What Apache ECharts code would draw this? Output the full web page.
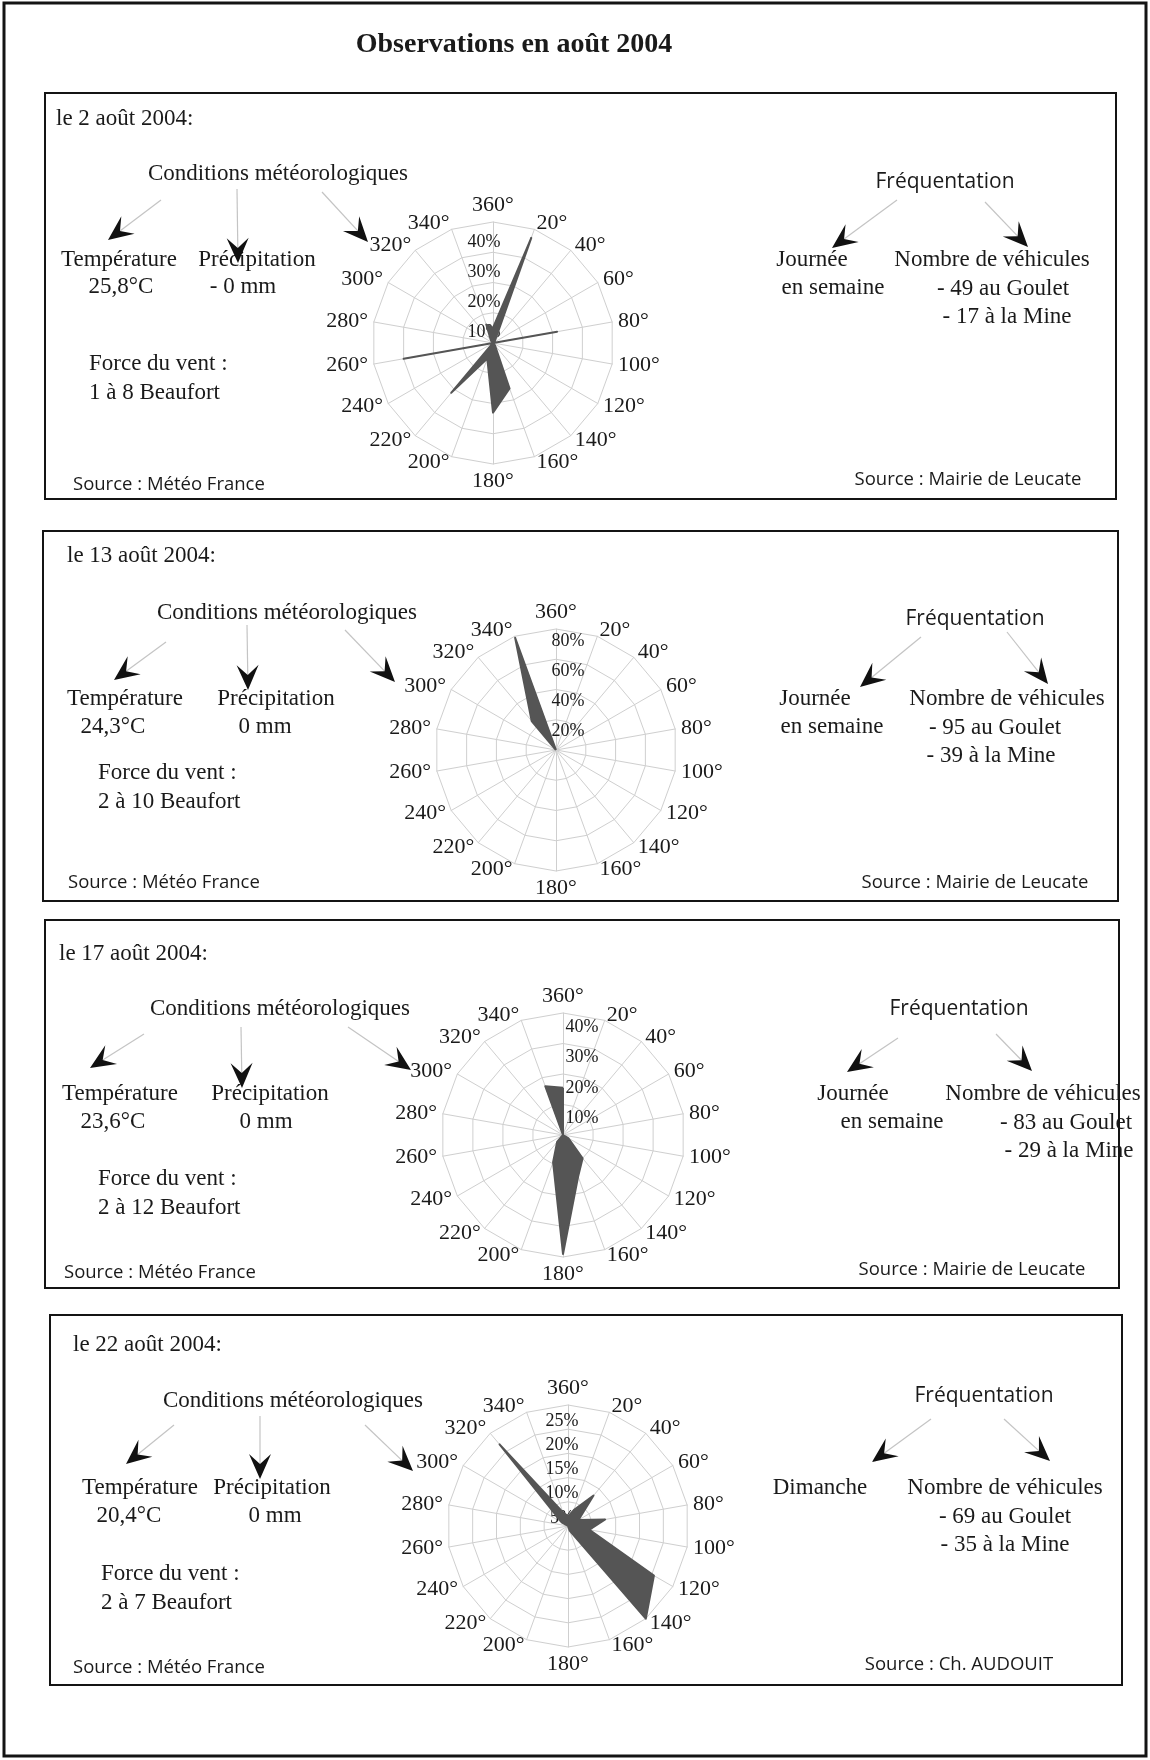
<!DOCTYPE html>
<html>
<head>
<meta charset="utf-8">
<title>Observations en août 2004</title>
<script src="https://cdn.jsdelivr.net/npm/echarts@6/dist/echarts.min.js"></script>
<style>
  html, body { margin: 0; padding: 0; background: #fff; }
  #chart { width: 1150px; height: 1760px; }
</style>
</head>
<body>
<div id="chart"></div>
<script>
// directions clockwise from north, 20° steps
const directions = [0, 20, 40, 60, 80, 100, 120, 140, 160, 180, 200, 220, 240, 260, 280, 300, 320, 340];
const dirLabels = ['360°', '20°', '40°', '60°', '80°', '100°', '120°', '140°', '160°', '180°',
                   '200°', '220°', '240°', '260°', '280°', '300°', '320°', '340°'];

// wind frequency (%) per direction, same order as directions
const wind02 = [5, 37, 1, 0, 21.5, 0, 0, 1, 16, 23, 5.5, 21.5, 0, 30, 0, 0, 1, 6.5];
const wind13 = [0, 0, 0, 0, 0, 0, 0, 0, 0, 0, 0, 0, 0, 0, 0, 0, 25, 79];
const wind17 = [15.5, 0, 0, 0, 0, 0, 2, 10, 14.5, 39, 9.5, 3, 0, 0, 0, 0, 0, 17];
const wind22 = [2, 3.5, 8.2, 2.5, 7.8, 4.5, 20.5, 25, 1, 0, 0, 0, 0, 0, 0, 1.5, 22, 3];

// scale max and ring count of each rose
const roseMax = [40, 80, 40, 25];
const roseSplit = [4, 4, 4, 5];

const serif = '"Liberation Serif", "Times New Roman", serif';
const sans = '"Open Sans", "Noto Sans", sans-serif';
const ink = '#1a1a1a';

// echarts radar runs counter-clockwise, so feed it north then 340, 320, ...
const order = directions.map((d, i) => (18 - i) % 18);

function makeRadar(center, radius, max, split, pad) {
  return {
    center: center,
    radius: radius,
    startAngle: 90,
    shape: 'polygon',
    splitNumber: split,
    indicator: order.map((k, j) => {
      const ind = { name: dirLabels[k], min: 0, max: max };
      if (j === 0) {
        ind.axisLabel = {
          show: true,
          color: ink,
          fontFamily: serif,
          fontSize: 18,
          margin: 0,
          align: 'center',
          verticalAlign: 'top',
          padding: pad,
          formatter: v => (v === 0 ? '' : v + '%')
        };
      }
      return ind;
    }),
    axisName: { color: ink, fontFamily: serif, fontSize: 22 },
    nameGap: 6,
    splitLine: { lineStyle: { color: '#cfcfcf', width: 1 } },
    splitArea: { show: false },
    axisLine: { lineStyle: { color: '#cfcfcf', width: 1 } },
    axisTick: { show: false },
    axisLabel: { show: false }
  };
}

function roseSeries(idx, values) {
  return {
    type: 'radar',
    radarIndex: idx,
    symbol: 'none',
    silent: true,
    lineStyle: { color: '#555555', width: 2 },
    areaStyle: { color: '#555555', opacity: 1 },
    data: [{ value: order.map(k => values[k]) }]
  };
}

// ---- decoration helpers ----
const g = [];
function txt(x, y, s, opt) {
  opt = opt || {};
  g.push({
    type: 'text', x: x, y: y, z: 10,
    style: {
      text: s,
      fill: ink,
      fontFamily: opt.family || serif,
      fontSize: opt.size || 23,
      fontWeight: opt.weight || 'normal',
      align: opt.align || 'center', textAlign: opt.align || 'center',
      verticalAlign: 'middle', textVerticalAlign: 'middle'
    }
  });
}
function arrow(sx, sy, tx, ty) {
  const dx = tx - sx, dy = ty - sy, len = Math.sqrt(dx * dx + dy * dy);
  const ux = dx / len, uy = dy / len, nx = -uy, ny = ux;
  const L = 25, W = 11;
  const bx = tx - ux * L, by = ty - uy * L;
  const mx = tx - ux * L * 0.6, my = ty - uy * L * 0.6;
  g.push({ type: 'line', z: 9, shape: { x1: sx, y1: sy, x2: mx, y2: my },
           style: { stroke: '#c4c4c4', lineWidth: 1.2 } });
  g.push({ type: 'polygon', z: 11,
           shape: { points: [[tx, ty], [bx + nx * W, by + ny * W], [mx, my], [bx - nx * W, by - ny * W]] },
           style: { fill: '#111' } });
}
function box(x, y, w, h, lw) {
  g.push({ type: 'rect', z: 20, shape: { x: x, y: y, width: w, height: h },
           style: { fill: 'none', stroke: '#141414', lineWidth: lw } });
}

function panel(p) {
  txt(p.dateX, p.dateY, p.date, { align: 'left' });
  txt(p.condX, p.condY, 'Conditions météorologiques');
  txt(p.tX, p.row1, 'Température');
  txt(p.tvX, p.row2, p.temp);
  txt(p.pX, p.row1, 'Précipitation');
  txt(p.pvX, p.row2, p.prec);
  txt(p.fX, p.fY, 'Force du vent :', { align: 'left' });
  txt(p.fX, p.fY + 29, p.force, { align: 'left' });
  txt(p.smX, p.srcY, 'Source : Météo France', { align: 'left', family: sans, size: 18.5 });
  txt(p.frX, p.frY, 'Fréquentation', { family: sans, size: 21 });
  p.dayLines.forEach((s, i) => txt(p.dayX[i], p.row1 + i * 28, s));
  p.carLines.forEach((s, i) => txt(p.carX[i], p.row1 + i * 28.5, s));
  txt(p.srX, p.srcY2, p.source, { family: sans, size: 18.5 });
  p.arrows.forEach(a => arrow(a[0], a[1], a[2], a[3]));
}

txt(514, 45, 'Observations en août 2004', { size: 28, weight: 'bold' });

panel({
  date: 'le 2 août 2004:', dateX: 56, dateY: 119, condX: 278, condY: 174,
  row1: 260, row2: 287, tX: 119, tvX: 121, temp: '25,8°C', pX: 257, pvX: 243, prec: '- 0 mm',
  fX: 89, fY: 364, force: '1 à 8 Beaufort', smX: 73, srcY: 485,
  frX: 945, frY: 182, dayLines: ['Journée', 'en semaine'], dayX: [812, 833],
  carLines: ['Nombre de véhicules', '- 49 au Goulet', '- 17 à la Mine'], carX: [992, 1003, 1007],
  source: 'Source : Mairie de Leucate', srX: 968, srcY2: 480,
  arrows: [[161, 200, 108, 240], [237, 189, 238, 263], [322, 192, 368, 242], [897, 200, 832, 248], [985, 202, 1028, 247]]
});
panel({
  date: 'le 13 août 2004:', dateX: 67, dateY: 556, condX: 287, condY: 613,
  row1: 699, row2: 727, tX: 125, tvX: 113, temp: '24,3°C', pX: 276, pvX: 265, prec: '0 mm',
  fX: 98, fY: 773, force: '2 à 10 Beaufort', smX: 68, srcY: 883,
  frX: 975, frY: 619, dayLines: ['Journée', 'en semaine'], dayX: [815, 832],
  carLines: ['Nombre de véhicules', '- 95 au Goulet', '- 39 à la Mine'], carX: [1007, 995, 991],
  source: 'Source : Mairie de Leucate', srX: 975, srcY2: 883,
  arrows: [[166, 642, 114, 680], [247, 625, 248, 690], [345, 630, 395, 682], [921, 637, 860, 687], [1007, 632, 1048, 684]]
});
panel({
  date: 'le 17 août 2004:', dateX: 59, dateY: 954, condX: 280, condY: 1009,
  row1: 1094, row2: 1122, tX: 120, tvX: 113, temp: '23,6°C', pX: 270, pvX: 266, prec: '0 mm',
  fX: 98, fY: 1179, force: '2 à 12 Beaufort', smX: 64, srcY: 1273,
  frX: 959, frY: 1009, dayLines: ['Journée', 'en semaine'], dayX: [853, 892],
  carLines: ['Nombre de véhicules', '- 83 au Goulet', '- 29 à la Mine'], carX: [1043, 1066, 1069],
  source: 'Source : Mairie de Leucate', srX: 972, srcY2: 1270,
  arrows: [[144, 1034, 90, 1068], [241, 1027, 242, 1088], [348, 1027, 411, 1070], [898, 1038, 847, 1072], [996, 1034, 1032, 1071]]
});
panel({
  date: 'le 22 août 2004:', dateX: 73, dateY: 1345, condX: 293, condY: 1401,
  row1: 1488, row2: 1516, tX: 140, tvX: 129, temp: '20,4°C', pX: 272, pvX: 275, prec: '0 mm',
  fX: 101, fY: 1574, force: '2 à 7 Beaufort', smX: 73, srcY: 1668,
  frX: 984, frY: 1396, dayLines: ['Dimanche'], dayX: [820],
  carLines: ['Nombre de véhicules', '- 69 au Goulet', '- 35 à la Mine'], carX: [1005, 1005, 1005],
  source: 'Source : Ch. AUDOUIT', srX: 959, srcY2: 1665,
  arrows: [[174, 1425, 126, 1464], [260, 1416, 260, 1479], [365, 1425, 413, 1471], [931, 1419, 872, 1462], [1004, 1419, 1050, 1461]]
});

box(4, 3, 1142, 1753, 3);
box(45, 93, 1071, 406, 2);
box(43, 531, 1075, 370, 2);
box(45, 920, 1074, 368, 2);
box(50, 1315, 1072, 370, 2);

const chart = echarts.init(document.getElementById('chart'), null, { renderer: 'canvas' });
chart.setOption({
  backgroundColor: '#ffffff',
  animation: false,
  radar: [
    makeRadar([493, 343], 121, roseMax[0], roseSplit[0], [11, 18, 0, 0]),
    makeRadar([556, 750], 121, roseMax[1], roseSplit[1], [3, 0, 0, 24]),
    makeRadar([563, 1135], 122, roseMax[2], roseSplit[2], [5, 0, 0, 38]),
    makeRadar([568, 1526], 121, roseMax[3], roseSplit[3], [7, 12, 0, 0])
  ],
  series: [
    roseSeries(0, wind02),
    roseSeries(1, wind13),
    roseSeries(2, wind17),
    roseSeries(3, wind22)
  ],
  graphic: { elements: g }
});
</script>
</body>
</html>
